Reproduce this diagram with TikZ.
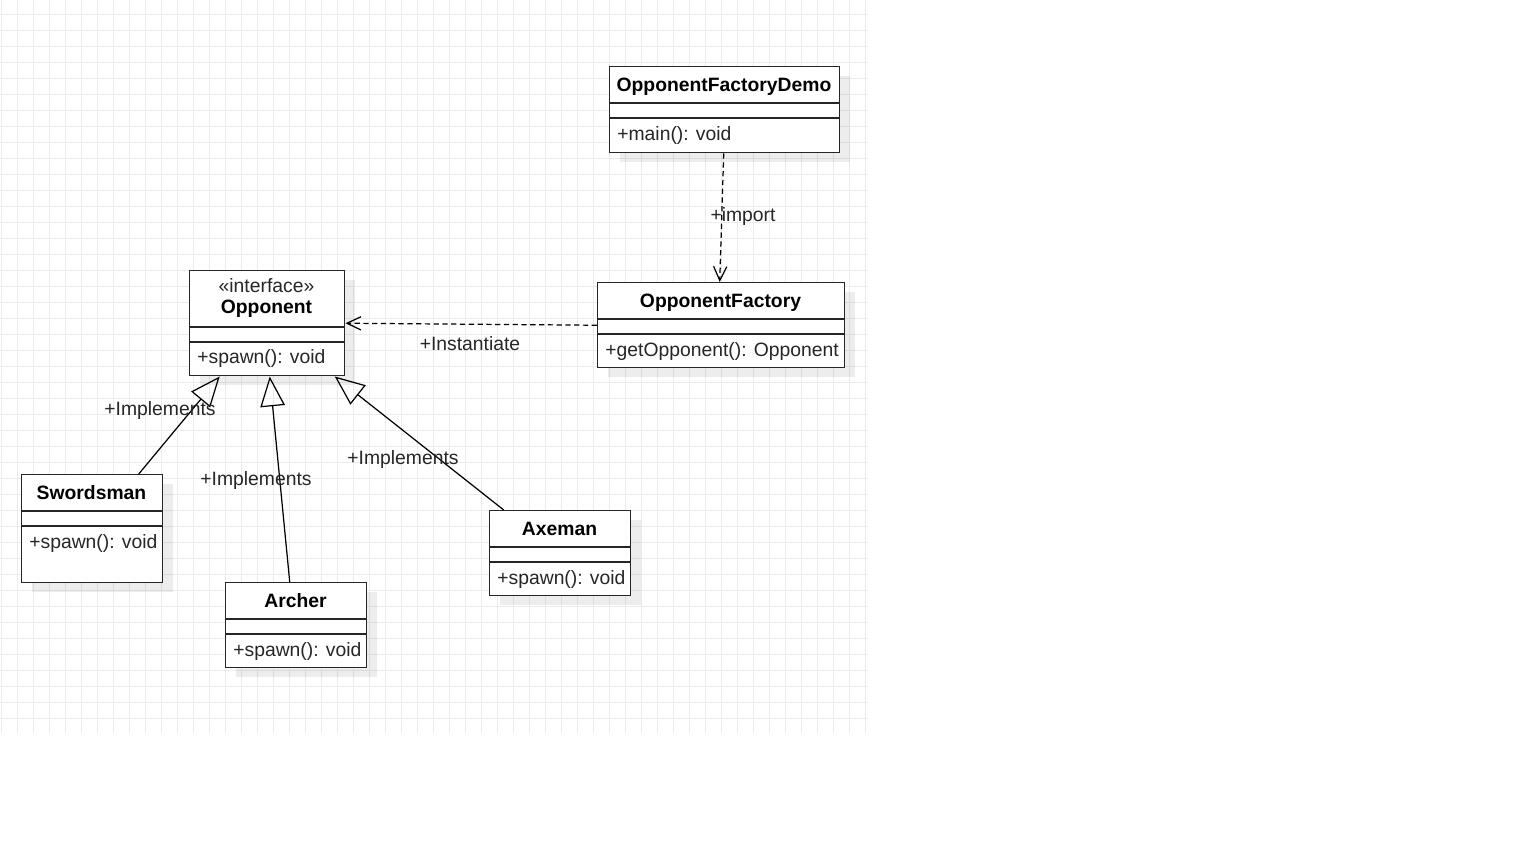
\documentclass[tikz,border=0pt]{standalone}
\usepackage{fontspec}
\setmainfont{Liberation Sans}
\usetikzlibrary{positioning, calc, arrows.meta, shadows}

\begin{document}
\begin{tikzpicture}[
    x=0.02cm, y=-0.02cm,
    font=\fontsize{11}{13.2}\selectfont,
    gridline/.style={draw=black!8, line width=0.5pt},
    classbox/.style={draw=black!85, line width=0.85pt, fill=white, rectangle, anchor=north west, inner sep=0pt, drop shadow={shadow xshift=0.2cm, shadow yshift=-0.18cm, fill=black, opacity=0.07}},
    divider/.style={draw=black!85, line width=0.85pt},
    titletext/.style={anchor=base, inner sep=0pt, font=\fontsize{11}{13.2}\selectfont\bfseries},
    stereotext/.style={anchor=base, inner sep=0pt, text=black!85},
    methodtext/.style={anchor=base west, inner sep=0pt, text=black!85},
    linklabel/.style={anchor=base, inner sep=0pt, text=black!85},
    realize/.style={draw=black, line width=0.7pt, -{Triangle[open, length=17pt, width=14pt]}},
    depend/.style={draw=black, line width=0.7pt, dash pattern=on 3pt off 2pt, -{Straight Barb[length=8pt, width=7.5pt]}}
]
    \useasboundingbox (0,0) rectangle (1536,864);

    % Grid
    \foreach \gx in {1,17,...,865}
        \draw[gridline] (\gx,0) -- (\gx,732);
    \foreach \gy in {14,30,...,718}
        \draw[gridline] (0,\gy) -- (868,\gy);

    % Demo
    \node[classbox, minimum width=4.6cm, minimum height=1.72cm] (demo) at (609,66) {};
    \draw[divider] ($(demo.north west)+(0,37)$) -- ($(demo.north east)+(0,37)$);
    \draw[divider] ($(demo.north west)+(0,52)$) -- ($(demo.north east)+(0,52)$);
    \node[titletext] (demo-title) at (724,92) {OpponentFactoryDemo};
    \node[methodtext] (demo-op) at (617,141) {+main(): void};

    % Factory
    \node[classbox, minimum width=4.94cm, minimum height=1.7cm] (factory) at (597,282) {};
    \draw[divider] ($(factory.north west)+(0,37)$) -- ($(factory.north east)+(0,37)$);
    \draw[divider] ($(factory.north west)+(0,52)$) -- ($(factory.north east)+(0,52)$);
    \node[titletext] (factory-title) at (720.5,308) {OpponentFactory};
    \node[methodtext] (factory-op) at (605,357) {+getOpponent(): Opponent};

    % Interface
    \node[classbox, minimum width=3.1cm, minimum height=2.1cm] (opp) at (189,270) {};
    \draw[divider] ($(opp.north west)+(0,57)$) -- ($(opp.north east)+(0,57)$);
    \draw[divider] ($(opp.north west)+(0,72)$) -- ($(opp.north east)+(0,72)$);
    \node[stereotext] (opp-stereo) at (266.5,292.5) {«interface»};
    \node[titletext] (opp-title) at (266.5,314) {Opponent};
    \node[methodtext] (opp-op) at (197,364) {+spawn(): void};

    % Concrete opponents
    \node[classbox, minimum width=2.82cm, minimum height=2.16cm] (sword) at (21,474) {};
    \draw[divider] ($(sword.north west)+(0,37)$) -- ($(sword.north east)+(0,37)$);
    \draw[divider] ($(sword.north west)+(0,52)$) -- ($(sword.north east)+(0,52)$);
    \node[titletext] (sword-title) at (91.5,499.5) {Swordsman};
    \node[methodtext] (sword-op) at (29,548.5) {+spawn(): void};

    \node[classbox, minimum width=2.82cm, minimum height=1.7cm] (archer) at (225,582) {};
    \draw[divider] ($(archer.north west)+(0,37)$) -- ($(archer.north east)+(0,37)$);
    \draw[divider] ($(archer.north west)+(0,52)$) -- ($(archer.north east)+(0,52)$);
    \node[titletext] (archer-title) at (295.5,607.5) {Archer};
    \node[methodtext] (archer-op) at (233,656.5) {+spawn(): void};

    \node[classbox, minimum width=2.82cm, minimum height=1.7cm] (axe) at (489,510) {};
    \draw[divider] ($(axe.north west)+(0,37)$) -- ($(axe.north east)+(0,37)$);
    \draw[divider] ($(axe.north west)+(0,52)$) -- ($(axe.north east)+(0,52)$);
    \node[titletext] (axe-title) at (559.5,535.5) {Axeman};
    \node[methodtext] (axe-op) at (497,584.5) {+spawn(): void};

    % Links
    \draw[depend] ($(demo.south)+(-1,0)$) -- ($(factory.north)+(-1.5,0)$);
    \node[linklabel] (import-lbl) at (743,221.5) {+import};
    \draw[depend] (factory.west) -- (opp.east);
    \node[linklabel] (inst-lbl) at (470,350.5) {+Instantiate};

    \draw[realize] ($(sword.north)+(46.5,0)$) -- ($(opp.south)+(-47.5,0)$);
    \node[linklabel] (sword-lbl) at (160,415.5) {+Implements};
    \draw[realize] ($(archer.north)+(-6.5,0)$) -- ($(opp.south)+(2.5,0)$);
    \node[linklabel] (archer-lbl) at (256,485.5) {+Implements};
    \draw[realize] ($(axe.north)+(-56.5,0)$) -- ($(opp.south)+(67.5,0)$);
    \node[linklabel] (axe-lbl) at (403,464.5) {+Implements};
\end{tikzpicture}
\end{document}
